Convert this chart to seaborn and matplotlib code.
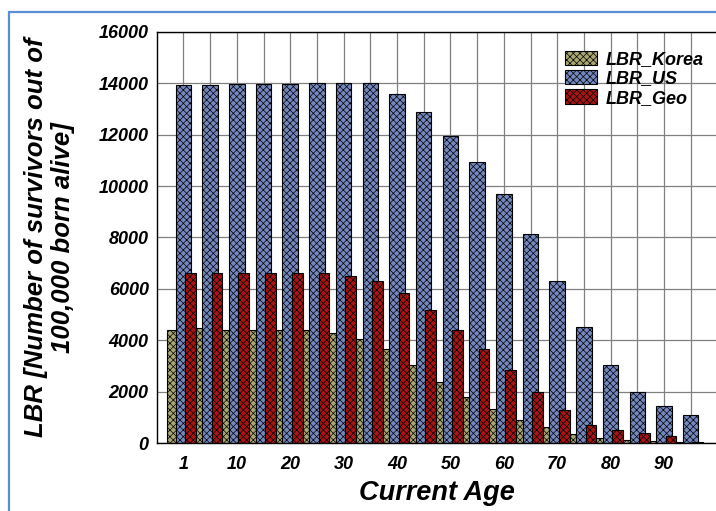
import matplotlib
matplotlib.use("Agg")
import matplotlib.pyplot as plt
import seaborn as sns
from matplotlib.patches import Rectangle

# Life-table survivors (out of 100,000 born alive) by current age
ages = [1, 5, 10, 15, 20, 25, 30, 35, 40, 45, 50, 55, 60, 65, 70, 75, 80, 85, 90, 95]
lbr_korea = [4380, 4490, 4380, 4380, 4380, 4380, 4300, 4030, 3650, 3030,
             2390, 1810, 1320, 890, 630, 350, 200, 110, 70, 30]
lbr_us = [13930, 13930, 13980, 13980, 13980, 14000, 14000, 14000, 13590, 12890,
          11960, 10950, 9710, 8140, 6290, 4530, 3030, 2000, 1430, 1100]
lbr_geo = [6630, 6630, 6630, 6630, 6630, 6630, 6520, 6290, 5840, 5180,
           4410, 3660, 2830, 1990, 1270, 720, 490, 390, 285, 30]
tick_ages = [1, 10, 20, 30, 40, 50, 60, 70, 80, 90]
series_names = ["LBR_Korea", "LBR_US", "LBR_Geo"]

sns.set_style("white")
plt.rcParams["font.family"] = ["Liberation Sans", "DejaVu Sans"]
plt.rcParams["hatch.linewidth"] = 0.5
plt.rcParams["text.color"] = "black"
plt.rcParams["axes.labelcolor"] = "black"
plt.rcParams["xtick.color"] = "black"
plt.rcParams["ytick.color"] = "black"

fig = plt.figure(figsize=(7.16, 5.11), dpi=100)
ax = fig.add_axes([157 / 716, 68 / 511, 559 / 716, 411 / 511])

pos = list(range(len(ages)))
bar_kw = dict(native_scale=True, errorbar=None, saturation=1, edgecolor="black",
              linewidth=0.8, ax=ax, hatch="xxxxx")

# Korea bars sit behind, US bars in the middle, Georgia bars overlap on the right
sns.barplot(x=[p - 0.35 for p in pos], y=lbr_korea, width=0.5, color="#a9a771",
            label=series_names[0], **bar_kw)
sns.barplot(x=pos, y=lbr_us, width=0.58, color="#7488c0",
            label=series_names[1], **bar_kw)
sns.barplot(x=[p + 0.26 for p in pos], y=lbr_geo, width=0.40, color="#aa1414",
            label=series_names[2], **bar_kw)

ax.set_xlim(-0.99, -0.99 + 559 / 26.7)
ax.set_ylim(0, 16000)
ax.set_yticks(range(0, 16001, 2000))
ax.set_xticks(pos)
ax.set_xticklabels([str(a) if a in tick_ages else "" for a in ages])
ax.set_axisbelow(True)
ax.grid(True, color="#808080", linewidth=0.9)

for lab in ax.get_xticklabels() + ax.get_yticklabels():
    lab.set_fontsize(13)
    lab.set_fontweight("bold")
    lab.set_fontstyle("italic")
    lab.set_color("black")
ax.tick_params(axis="both", length=0)
ax.tick_params(axis="x", pad=9)
ax.tick_params(axis="y", pad=6)

for side in ["left", "top", "bottom"]:
    ax.spines[side].set_color("black")
    ax.spines[side].set_linewidth(1.0)
ax.spines["right"].set_visible(False)

ax.set_xlabel("Current Age", fontsize=19.5, fontweight="bold", fontstyle="italic",
              color="black")
ax.xaxis.set_label_coords(0.5, -0.122)
ax.xaxis.label.set_va("center")
ax.set_ylabel("LBR [Number of survivors out of\n100,000 born alive]",
              fontsize=18.5, fontweight="bold", fontstyle="italic", linespacing=1.15,
              color="black")
ax.yaxis.set_label_coords((75 - 157) / 559, 0.5)

handles = list(ax.containers[:3])
ax.legend(handles, series_names, loc="upper right", bbox_to_anchor=(1.0, 0.985),
          frameon=False, prop=dict(size=13, weight="bold", style="italic"),
          handlelength=1.8, handleheight=0.85, labelspacing=0.1,
          handletextpad=0.45, borderaxespad=0.3)

# light blue page frame around the figure
fig.add_artist(Rectangle((9 / 716, -0.1), 1.2, (511 - 12) / 511 + 0.1,
                         transform=fig.transFigure, fill=False,
                         edgecolor="#5b8ed6", linewidth=1.6))

fig.savefig("out.png", dpi=100)
